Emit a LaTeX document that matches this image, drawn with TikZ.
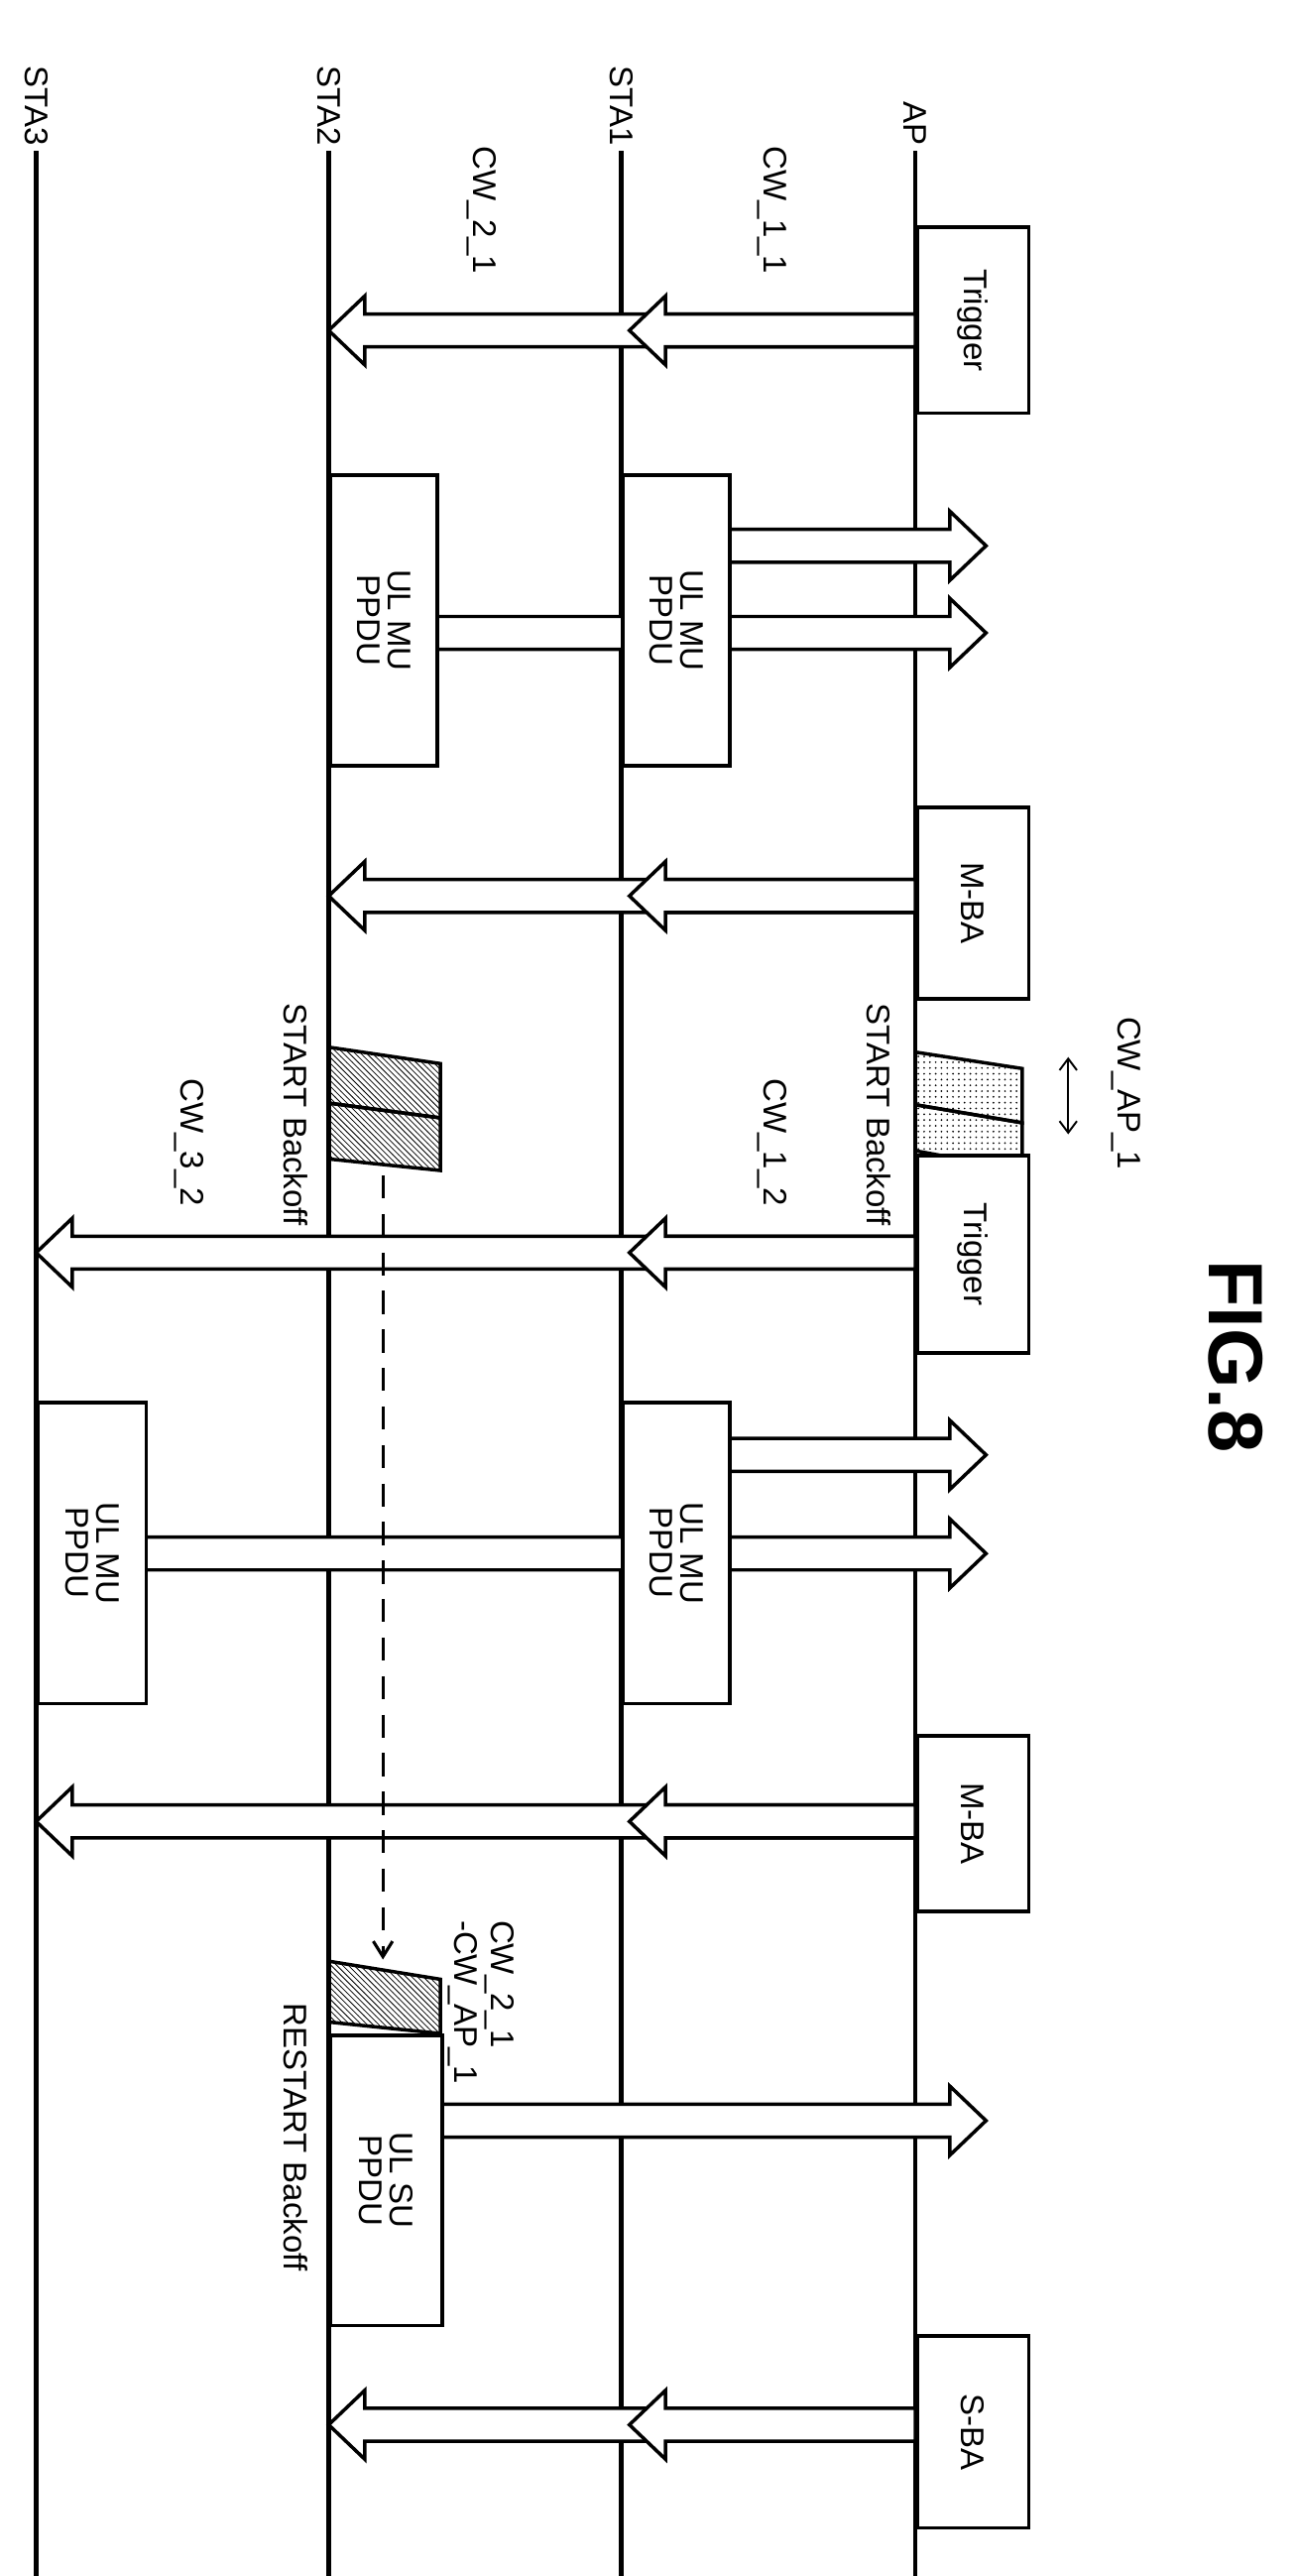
\documentclass[tikz,border=0pt]{standalone}
\usepackage{fontspec}
\setmainfont{Liberation Sans}
\usetikzlibrary{arrows.meta,patterns}
\tikzset{
  life/.style={line width=2.2pt},
  frame/.style={draw,line width=1.8pt,fill=white},
  lbl/.style={rotate=-90,font=\fontsize{17}{19}\selectfont,inner sep=1pt},
  boxtxt/.style={rotate=-90,font=\fontsize{17}{16}\selectfont,align=center,inner sep=0pt},
  bigarrow/.style={draw,line width=1.8pt,fill=white,line join=miter}
}
% hollow block arrow: y, x of tail, x of tip
\newcommand{\blockarrow}[3]{%
  \pgfmathsetmacro{\dir}{(#3>#2)?1:-1}
  \draw[bigarrow] (#2,#1-10) -- ({#3-\dir*22},#1-10) -- ({#3-\dir*22},#1-21) -- (#3,#1)
     -- ({#3-\dir*22},#1+21) -- ({#3-\dir*22},#1+10) -- (#2,#1+10) -- cycle;}
\begin{document}
\begin{tikzpicture}[x=0.3mm,y=-0.3mm]
  \useasboundingbox (0,0) rectangle (790,1567);
  % lifelines
  \foreach \nm/\xx in {STA3/22,STA2/200,STA1/378,AP/557}{
    \coordinate (\nm top) at (\xx,92);
    \coordinate (\nm bot) at (\xx,1567);
    \draw[life] (\nm top) -- (\nm bot);
    \node[lbl,anchor=east] (\nm lab) at (\xx,90) {\nm};
  }
  \node[rotate=-90,font=\bfseries\fontsize{40}{40}\selectfont] (fig) at (752,825) {FIG.8};

  % first exchange
  \blockarrow{201}{557}{200}
  \blockarrow{201}{557}{383}
  \node[frame,minimum width=20.4mm,minimum height=34mm,anchor=north west,inner sep=0pt] (trig1) at (557,137) {};
  \node[boxtxt] at (trig1) {Trigger};
  \node[lbl] (cw11) at (470,128) {CW\_1\_1};
  \node[lbl] (cw21) at (293,128) {CW\_2\_1};

  \blockarrow{332}{440}{600}
  \blockarrow{385}{262}{600}
  \node[frame,minimum width=19.5mm,minimum height=53mm,anchor=north west,inner sep=0pt] (ppdu1) at (378,288) {};
  \node[frame,minimum width=19.5mm,minimum height=53mm,anchor=north west,inner sep=0pt] (ppdu2) at (200,288) {};
  \node[boxtxt] at (ppdu1) {UL MU\\PPDU};
  \node[boxtxt] at (ppdu2) {UL MU\\PPDU};

  \blockarrow{545}{557}{200}
  \blockarrow{545}{557}{383}
  \node[frame,minimum width=20.4mm,minimum height=35mm,anchor=north west,inner sep=0pt] (mba1) at (557,490) {};
  \node[boxtxt] at (mba1) {M-BA};

  % backoff
  \draw[line width=1.8pt,pattern=dots] (557,640) -- (622,650) -- (622,683) -- (557,672) -- cycle;
  \draw[line width=1.8pt,pattern=dots] (557,672) -- (622,683) -- (622,712) -- (557,700) -- cycle;
  \draw[line width=1.8pt,pattern=north west lines] (200,637) -- (268,647) -- (268,680) -- (200,671) -- cycle;
  \draw[line width=1.8pt,pattern=north west lines] (200,671) -- (268,680) -- (268,712) -- (200,705) -- cycle;
  \node[lbl] (sb1) at (535,678) {START Backoff};
  \node[lbl] (sb2) at (180,678) {START Backoff};
  \coordinate (cwa) at (650,643);
  \coordinate (cwb) at (650,690);
  \draw[{Straight Barb[length=6pt,width=9pt]}-{Straight Barb[length=6pt,width=9pt]},line width=1pt] (cwa) -- (cwb);
  \node[lbl] (cwap) at (685,665) {CW\_AP\_1};
  \node[lbl] (cw12) at (470,695) {CW\_1\_2};
  \node[lbl] (cw32) at (115,695) {CW\_3\_2};

  % second exchange
  \blockarrow{762}{557}{22}
  \blockarrow{762}{557}{383}
  \node[frame,minimum width=20.4mm,minimum height=36mm,anchor=north west,inner sep=0pt] (trig2) at (557,702) {};
  \node[boxtxt] at (trig2) {Trigger};

  \blockarrow{885}{440}{600}
  \blockarrow{945}{86}{600}
  \node[frame,minimum width=19.5mm,minimum height=55mm,anchor=north west,inner sep=0pt] (ppdu3) at (378,852) {};
  \node[frame,minimum width=19.8mm,minimum height=55mm,anchor=north west,inner sep=0pt] (ppdu4) at (22,852) {};
  \node[boxtxt] at (ppdu3) {UL MU\\PPDU};
  \node[boxtxt] at (ppdu4) {UL MU\\PPDU};

  \blockarrow{1108}{557}{22}
  \blockarrow{1108}{557}{383}
  \node[frame,minimum width=20.4mm,minimum height=32mm,anchor=north west,inner sep=0pt] (mba2) at (557,1055) {};
  \node[boxtxt] at (mba2) {M-BA};

  % restart
  \coordinate (dstart) at (233,715);
  \coordinate (dend) at (233,1192);
  \draw[line width=1.6pt,dash pattern=on 12pt off 8pt,-{Straight Barb[length=8pt,width=10pt]}] (dstart) -- (dend);
  \blockarrow{1290}{266}{600}
  \node[frame,minimum width=20.4mm,minimum height=53mm,anchor=north west,inner sep=0pt] (supdu) at (200,1237) {};
  \node[boxtxt] at (supdu) {UL SU\\PPDU};
  \draw[line width=1.8pt,pattern=north west lines] (200,1193) -- (268,1204) -- (268,1237) -- (200,1230) -- cycle;
  \node[lbl,align=left] (cwdiff) at (293,1218) {CW\_2\_1\\-CW\_AP\_1};
  \node[lbl] (rb) at (180,1300) {RESTART Backoff};

  \blockarrow{1475}{557}{200}
  \blockarrow{1475}{557}{383}
  \node[frame,minimum width=20.4mm,minimum height=35mm,anchor=north west,inner sep=0pt] (sba) at (557,1420) {};
  \node[boxtxt] at (sba) {S-BA};
\end{tikzpicture}
\end{document}
